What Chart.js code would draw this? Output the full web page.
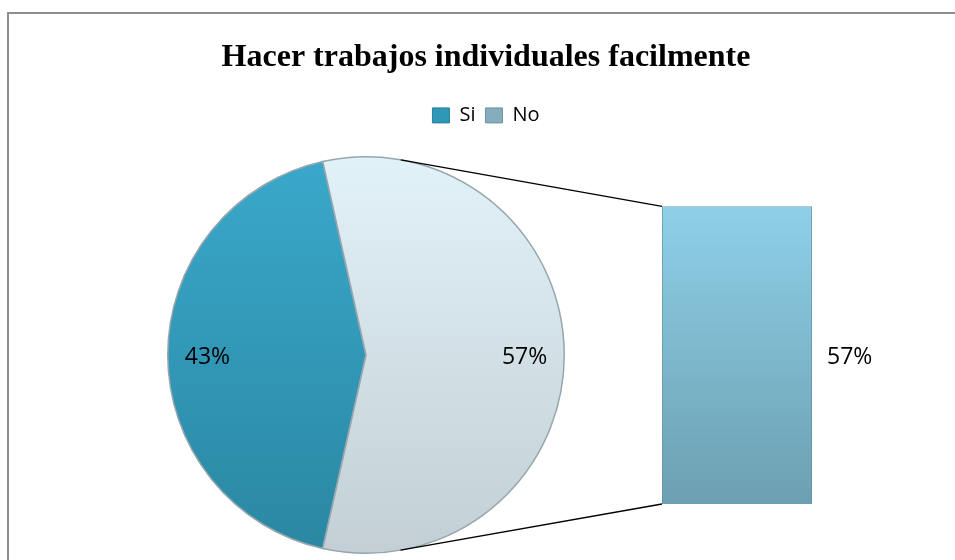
<!DOCTYPE html>
<html>
<head>
<meta charset="utf-8">
<title>Hacer trabajos individuales facilmente</title>
<script src="https://cdn.jsdelivr.net/npm/chart.js"></script>
<style>
    html, body { margin: 0; padding: 0; background: #fff; }
    body { width: 955px; height: 560px; position: relative; overflow: hidden; }
    #marco {
        position: absolute; left: 7px; top: 12px; width: 970px; height: 570px;
        border-left: 2px solid #8e8e8e; border-top: 2px solid #8e8e8e;
    }
    canvas { position: absolute; left: 0; top: 0; }
</style>
</head>
<body>
<div id="marco"></div>
<canvas id="pieChart" width="955" height="560"></canvas>
<canvas id="barChart" width="955" height="560"></canvas>

<script>
    // Datos
    const titulo = 'Hacer trabajos individuales facilmente';
    const categorias = ['Si', 'No'];
    const valores = [43, 57];
    const barCategorias = ['No'];
    const barValores = [57];

    const total = valores.reduce((a, b) => a + b, 0);
    const pct = v => Math.round(v / total * 100) + '%';
    const fuenteTexto = "'Open Sans', 'DejaVu Sans', sans-serif";

    // degradado vertical sobre el area del grafico
    function degradado(chart, arriba, abajo) {
        const a = chart.chartArea;
        if (!a) return arriba;
        const g = chart.ctx.createLinearGradient(0, a.top, 0, a.bottom);
        g.addColorStop(0, arriba);
        g.addColorStop(1, abajo);
        return g;
    }

    const coloresPie = [['#3aa8cb', '#2a87a2'], ['#e2f2f9', '#c3cfd4']];

    // etiquetas de porcentaje dentro del pastel
    const etiquetasPie = {
        id: 'etiquetasPie',
        afterDatasetsDraw(chart) {
            const ctx = chart.ctx;
            ctx.save();
            ctx.font = '23px ' + fuenteTexto;
            ctx.fillStyle = '#000';
            ctx.textAlign = 'center';
            ctx.textBaseline = 'middle';
            chart.getDatasetMeta(0).data.forEach((arc, i) => {
                const mid = (arc.startAngle + arc.endAngle) / 2;
                const r = arc.outerRadius * 0.8;
                ctx.fillText(pct(valores[i]), arc.x + Math.cos(mid) * r, arc.y + Math.sin(mid) * r + 2);
            });
            ctx.restore();
        }
    };

    const pieChart = new Chart(document.getElementById('pieChart'), {
        type: 'pie',
        data: {
            labels: categorias,
            datasets: [{
                data: valores,
                backgroundColor: c => degradado(c.chart, coloresPie[c.dataIndex][0], coloresPie[c.dataIndex][1]),
                borderColor: '#95a6ad',
                borderWidth: 1.5
            }]
        },
        options: {
            responsive: false,
            animation: false,
            // la porcion "No" queda centrada a la derecha
            rotation: 90 + 180 * valores[1] / total,
            layout: { padding: { left: 167, right: 390, top: 156, bottom: 6 } },
            plugins: {
                legend: { display: false },
                title: { display: false },
                tooltip: { enabled: false }
            }
        },
        plugins: [etiquetasPie]
    });

    // espacio extra bajo la leyenda
    const espacioLeyenda = {
        id: 'espacioLeyenda',
        beforeInit(chart) {
            if (!chart.legend) return;
            const fit = chart.legend.fit;
            chart.legend.fit = function () {
                fit.call(this);
                this.height += 71;
            };
        }
    };

    // lineas que unen el pastel con la barra
    const conectores = {
        id: 'conectores',
        afterDatasetsDraw(chart) {
            const arc = pieChart.getDatasetMeta(0).data[1];
            const bar = chart.getDatasetMeta(0).data[0];
            const cx = arc.x, cy = arc.y, r = arc.outerRadius;
            const left = bar.x - bar.width / 2;
            const ctx = chart.ctx;
            ctx.save();
            ctx.strokeStyle = '#000';
            ctx.lineWidth = 1.3;
            [[left, bar.y, -1], [left, bar.base, 1]].forEach(([px, py, s]) => {
                const dx = px - cx, dy = py - cy;
                const d = Math.hypot(dx, dy);
                const ang = Math.atan2(dy, dx) + s * Math.acos(r / d);
                ctx.beginPath();
                ctx.moveTo(cx + r * Math.cos(ang), cy + r * Math.sin(ang));
                ctx.lineTo(px, py);
                ctx.stroke();
            });
            // etiqueta de la barra
            ctx.font = '23px ' + fuenteTexto;
            ctx.fillStyle = '#000';
            ctx.textAlign = 'left';
            ctx.textBaseline = 'middle';
            ctx.fillText(pct(barValores[0]), bar.x + bar.width / 2 + 15, (bar.y + bar.base) / 2 + 2);
            ctx.restore();
        }
    };

    new Chart(document.getElementById('barChart'), {
        type: 'bar',
        data: {
            labels: barCategorias,
            datasets: [{
                label: 'No',
                data: barValores,
                backgroundColor: c => degradado(c.chart, '#8ed0e8', '#6c9fb1'),
                borderColor: '#6393a5',
                borderWidth: 1,
                barPercentage: 1,
                categoryPercentage: 1
            }]
        },
        options: {
            responsive: false,
            animation: false,
            layout: { padding: { left: 160, right: 143, top: 0, bottom: 56 } },
            scales: {
                x: { display: false },
                y: {
                    min: 0,
                    max: 57,
                    ticks: { display: false },
                    grid: { display: false },
                    border: { display: false },
                    afterFit: s => { s.width = 502; }
                }
            },
            plugins: {
                title: {
                    display: true,
                    text: titulo,
                    color: '#000',
                    font: { family: "'Liberation Serif', 'DejaVu Serif', serif", size: 32, weight: 'bold' },
                    padding: { top: 39, bottom: 18 }
                },
                legend: {
                    display: true,
                    onClick: () => {},
                    labels: {
                        color: '#000',
                        boxWidth: 17,
                        boxHeight: 15,
                        padding: 10,
                        font: { family: fuenteTexto, size: 20 },
                        generateLabels: () => categorias.map((t, i) => ({
                            text: t,
                            fillStyle: ['#2f98b8', '#85adbc'][i],
                            strokeStyle: ['#267f99', '#6d93a2'][i],
                            lineWidth: 1,
                            hidden: false,
                            index: i
                        }))
                    }
                },
                tooltip: { enabled: false }
            }
        },
        plugins: [espacioLeyenda, conectores]
    });
</script>
</body>
</html>
